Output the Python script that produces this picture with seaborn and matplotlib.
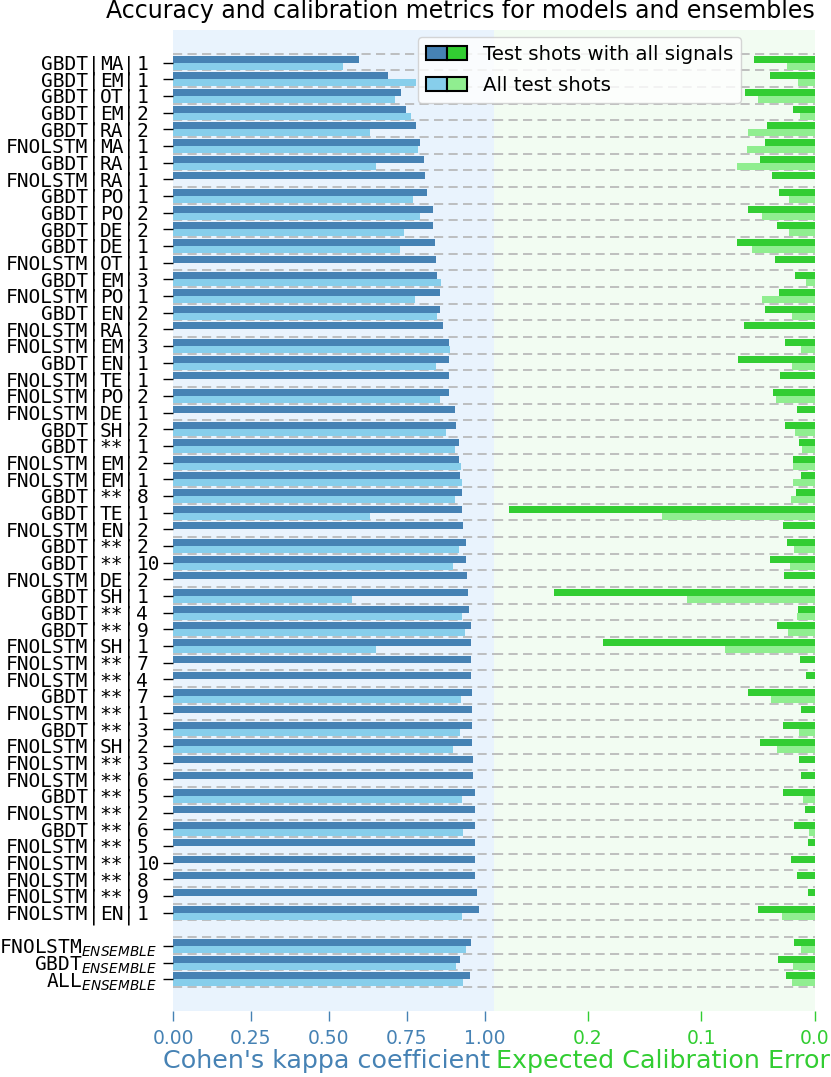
import numpy as np
import pandas as pd
import matplotlib
matplotlib.use("Agg")
import matplotlib.pyplot as plt
import matplotlib.transforms as mtransforms
from matplotlib.patches import Patch
from matplotlib.legend_handler import HandlerTuple
import seaborn as sns

nan = np.nan

# individual models (top to bottom)
models = ['GBDT', 'GBDT', 'GBDT', 'GBDT', 'GBDT', 'FNOLSTM', 'GBDT', 'FNOLSTM', 'GBDT', 'GBDT',
          'GBDT', 'GBDT', 'FNOLSTM', 'GBDT', 'FNOLSTM', 'GBDT', 'FNOLSTM', 'FNOLSTM', 'GBDT', 'FNOLSTM',
          'FNOLSTM', 'FNOLSTM', 'GBDT', 'GBDT', 'FNOLSTM', 'FNOLSTM', 'GBDT', 'GBDT', 'FNOLSTM', 'GBDT',
          'GBDT', 'FNOLSTM', 'GBDT', 'GBDT', 'GBDT', 'FNOLSTM', 'FNOLSTM', 'FNOLSTM', 'GBDT', 'FNOLSTM',
          'GBDT', 'FNOLSTM', 'FNOLSTM', 'FNOLSTM', 'GBDT', 'FNOLSTM', 'GBDT', 'FNOLSTM', 'FNOLSTM', 'FNOLSTM',
          'FNOLSTM', 'FNOLSTM']
signals = ['MA', 'EM', 'OT', 'EM', 'RA', 'MA', 'RA', 'RA', 'PO', 'PO',
           'DE', 'DE', 'OT', 'EM', 'PO', 'EN', 'RA', 'EM', 'EN', 'TE',
           'PO', 'DE', 'SH', '**', 'EM', 'EM', '**', 'TE', 'EN', '**',
           '**', 'DE', 'SH', '**', '**', 'SH', '**', '**', '**', '**',
           '**', 'SH', '**', '**', '**', '**', '**', '**', '**', '**',
           '**', 'EN']
runs = [1, 1, 1, 2, 2, 1, 1, 1, 1, 2,
        2, 1, 1, 3, 1, 2, 2, 3, 1, 1,
        2, 1, 2, 1, 2, 1, 8, 1, 2, 2,
        10, 2, 1, 4, 9, 1, 7, 4, 7, 1,
        3, 2, 3, 6, 5, 2, 6, 5, 10, 8,
        9, 1]

kappa_full = [0.596, 0.690, 0.732, 0.747, 0.781, 0.793, 0.804, 0.809, 0.816, 0.833,
              0.833, 0.840, 0.843, 0.846, 0.856, 0.858, 0.867, 0.885, 0.885, 0.886,
              0.886, 0.905, 0.908, 0.917, 0.918, 0.919, 0.926, 0.926, 0.931, 0.939,
              0.940, 0.942, 0.946, 0.948, 0.955, 0.956, 0.956, 0.957, 0.959, 0.959,
              0.960, 0.960, 0.962, 0.963, 0.968, 0.968, 0.969, 0.969, 0.970, 0.970,
              0.975, 0.980]
kappa_all = [0.544, 0.779, 0.712, 0.762, 0.631, 0.785, 0.652, nan, 0.771, 0.792,
             0.742, 0.728, nan, 0.861, 0.776, 0.847, nan, 0.887, 0.842, nan,
             0.856, nan, 0.877, 0.905, 0.924, 0.928, 0.903, 0.632, nan, 0.916,
             0.897, nan, 0.575, 0.927, 0.938, 0.650, nan, nan, 0.925, nan,
             0.920, 0.897, nan, nan, 0.926, nan, 0.929, nan, nan, nan,
             nan, 0.927]
ece_full = [0.0534, 0.0396, 0.0617, 0.0191, 0.0426, 0.0441, 0.0482, 0.0376, 0.0320, 0.0590,
            0.0332, 0.0684, 0.0352, 0.0173, 0.0317, 0.0441, 0.0628, 0.0261, 0.0675, 0.0308,
            0.0373, 0.0156, 0.0261, 0.0144, 0.0197, 0.0126, 0.0167, 0.2693, 0.0279, 0.0247,
            0.0396, 0.0273, 0.2300, 0.0153, 0.0335, 0.1865, 0.0132, 0.0076, 0.0593, 0.0120,
            0.0279, 0.0485, 0.0141, 0.0126, 0.0282, 0.0085, 0.0185, 0.0065, 0.0211, 0.0156,
            0.0059, 0.0505]
ece_all = [0.0247, 0.0147, 0.0499, 0.0132, 0.0587, 0.0596, 0.0684, nan, 0.0229, 0.0464,
           0.0226, 0.0558, nan, 0.0082, 0.0464, 0.0200, nan, 0.0123, 0.0200, nan,
           0.0347, nan, 0.0176, 0.0115, 0.0191, 0.0197, 0.0211, 0.1345, nan, 0.0185,
           0.0220, nan, 0.1130, 0.0159, 0.0238, 0.0796, nan, nan, 0.0391, nan,
           0.0138, 0.0335, nan, nan, 0.0103, nan, 0.0050, nan, nan, nan,
           nan, 0.0294]

# ensembles
ens_names = ['FNOLSTM', 'GBDT', 'ALL']
ens_kappa_full = [0.956, 0.922, 0.954]
ens_kappa_all = [0.939, 0.909, 0.929]
ens_ece_full = [0.0185, 0.0323, 0.0256]
ens_ece_all = [0.0126, 0.0197, 0.0203]

lab_full = 'Test shots with all signals'
lab_all = 'All test shots'

# build long table
keys = [f"{m}|{s}|{r}" for m, s, r in zip(models, signals, runs)]
ens_keys = [f"{n}$_{{ENSEMBLE}}$" for n in ens_names]
order = keys + [' '] + ens_keys

rows = []
for k, a, b, c, d in zip(keys + ens_keys,
                         kappa_full + ens_kappa_full, kappa_all + ens_kappa_all,
                         ece_full + ens_ece_full, ece_all + ens_ece_all):
    rows.append({'key': k, 'kind': lab_full, 'kappa': a, 'ece': c})
    rows.append({'key': k, 'kind': lab_all, 'kappa': b, 'ece': d})
df = pd.DataFrame(rows)

blue_d, blue_l = '#4682b4', '#87ceeb'
green_d, green_l = '#32cd32', '#90ee90'

fig = plt.figure(figsize=(8.31, 10.77), dpi=100)
W, H = 831, 1077
ax1 = fig.add_axes([173 / W, 1 - 1011 / H, 320.5 / W, 981 / H])
ax2 = fig.add_axes([493.5 / W, 1 - 1011 / H, 321.5 / W, 981 / H])

sns.barplot(data=df.dropna(subset=['kappa']), x='kappa', y='key', hue='kind', order=order,
            hue_order=[lab_full, lab_all], palette=[blue_d, blue_l], saturation=1,
            errorbar=None, width=0.84, linewidth=0, legend=False, ax=ax1)
sns.barplot(data=df.dropna(subset=['ece']), x='ece', y='key', hue='kind', order=order,
            hue_order=[lab_full, lab_all], palette=[green_d, green_l], saturation=1,
            errorbar=None, width=0.84, linewidth=0, legend=False, ax=ax2)

ax1.set_facecolor('#e9f3fd')
ax2.set_facecolor('#f2fcf2')

ypos = list(range(len(keys))) + [len(keys) + 1 + i for i in range(len(ens_keys))]
for ax in (ax1, ax2):
    ax.set_ylim(56.9, -1.95)
    for y in np.arange(-1, len(order)) + 0.46:
        ax.axhline(y, color='#b5b5b5', lw=1.2, ls=(0, (5.5, 3.2)), zorder=0.5)
    for s in ax.spines.values():
        s.set_visible(False)
    ax.set_xlabel('')
    ax.set_ylabel('')

# y labels as monospaced columns: model | signal | run
ax1.set_yticks(ypos)
ax1.set_yticklabels([])
ax1.tick_params(axis='y', length=7, width=1)
ax2.set_yticks([])
lab_tr = mtransforms.blended_transform_factory(fig.transFigure, ax1.transData)
cw = 11.72          # width of one monospaced character, px
x0 = 6.0            # left edge of the first character cell, px
mono = dict(transform=lab_tr, va='center_baseline', family='DejaVu Sans Mono', fontsize=14)
for y, m, s, r in zip(ypos, models, signals, runs):
    ax1.text((x0 + 7 * cw) / W, y, m, ha='right', **mono)
    ax1.text((x0 + 7.5 * cw) / W, y, '|', ha='center', **mono)
    ax1.text((x0 + 9 * cw) / W, y, s, ha='center', **mono)
    ax1.text((x0 + 10.5 * cw) / W, y, '|', ha='center', **mono)
    ax1.text((x0 + 11 * cw + 1.5) / W, y, str(r), ha='left', **mono)
for y, k in zip(ypos[len(keys):], ens_keys):
    ax1.text(157 / W, y, k, ha='right', **mono)

ax1.set_xlim(0, 1.028)
ax1.set_xticks([0, 0.25, 0.5, 0.75, 1.0])
ax1.set_xticklabels(['0.00', '0.25', '0.50', '0.75', '1.00'])
ax1.tick_params(axis='x', colors=blue_d, labelsize=13.5, length=7, width=1, pad=6)

ax2.set_xlim(0.2828, 0)
ax2.set_xticks([0.2, 0.1, 0.0])
ax2.set_xticklabels(['0.2', '0.1', '0.0'])
ax2.tick_params(axis='x', colors=green_d, labelsize=13.5, length=7, width=1, pad=6)

fig.text(490 / W, 1 - 1061 / H, "Cohen's kappa coefficient", color=blue_d,
         fontsize=18.3, ha='right', va='center')
fig.text(496 / W, 1 - 1061 / H, 'Expected Calibration Error', color=green_d,
         fontsize=18.3, ha='left', va='center')
fig.text(815 / W, 1 - 18 / H, 'Accuracy and calibration metrics for models and ensembles',
         fontsize=17, ha='right', va='baseline')

h_full = (Patch(facecolor=blue_d, edgecolor='black', lw=1.5),
          Patch(facecolor=green_d, edgecolor='black', lw=1.5))
h_all = (Patch(facecolor=blue_l, edgecolor='black', lw=1.5),
         Patch(facecolor=green_l, edgecolor='black', lw=1.5))
fig.legend([h_full, h_all], [lab_full, lab_all],
           handler_map={tuple: HandlerTuple(ndivide=None, pad=0)},
           loc='upper left', bbox_to_anchor=(418 / W, 1 - 37 / H), borderaxespad=0,
           fontsize=14.2, handlelength=2.1, labelspacing=0.6)

fig.savefig('out.png', dpi=100)
